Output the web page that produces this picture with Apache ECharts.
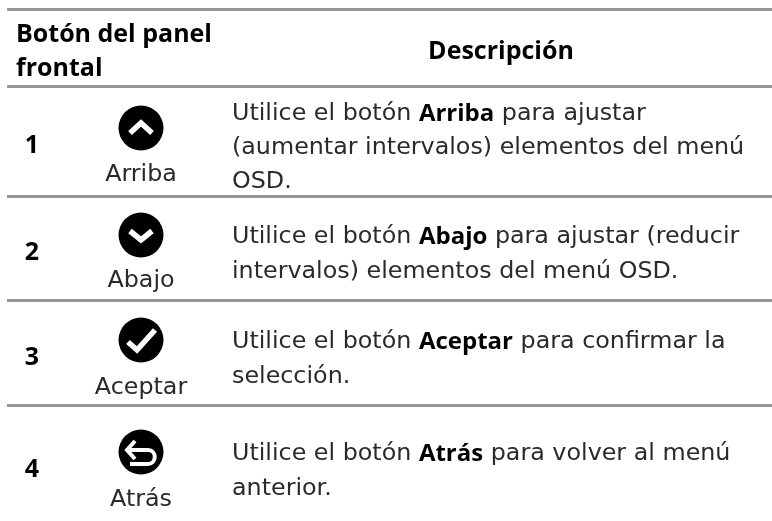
<!DOCTYPE html>
<html><head><meta charset="utf-8">
<style>html,body{margin:0;padding:0;background:#fff}#c{width:772px;height:521px}</style>
<script src="https://cdn.jsdelivr.net/npm/echarts@6/dist/echarts.min.js"></script>
</head><body><div id="c"></div>
<script>
var headerLeft = ['Botón del panel', 'frontal'];
var headerRight = 'Descripción';
var rowNumbers = ['1', '2', '3', '4'];
var buttonNames = ['Arriba', 'Abajo', 'Aceptar', 'Atrás'];
var descriptions = [
  ['Utilice el botón **Arriba** para ajustar', '(aumentar intervalos) elementos del menú', 'OSD.'],
  ['Utilice el botón **Abajo** para ajustar (reducir', 'intervalos) elementos del menú OSD.'],
  ['Utilice el botón **Aceptar** para confirmar la', 'selección.'],
  ['Utilice el botón **Atrás** para volver al menú', 'anterior.']
];
var ruleYs = [9.5, 86.5, 196.5, 300.5, 405.5];
var numberYs = [146, 253, 358, 470];
var iconYs = [128, 235, 340, 452];
var nameYs = [174.5, 281, 388, 500];
var descYs = [[114, 148, 182], [237, 272], [342, 377], [454, 489]];

var FONT = '"DejaVu Sans", sans-serif', BOLD = '"Open Sans", sans-serif';
var SIZE = 23.8, BSIZE = 24, INK = '#2a2a2a';
function richText(line){
  var parts = line.split('**'), out = '';
  parts.forEach(function(p,i){ if(p) out += '{' + (i%2?'b':'n') + '|' + p + '}'; });
  return out;
}
var els = [];
function txt(x,y,t,opt){
  els.push({type:'text',x:x,y:y,silent:true,style:Object.assign({text:t,fontFamily:FONT,fontSize:SIZE,fill:INK,verticalAlign:'middle',align:'left'},opt||{})});
}
ruleYs.forEach(function(y){
  els.push({type:'line',silent:true,shape:{x1:7,y1:y,x2:772,y2:y},style:{stroke:'#969696',lineWidth:3}});
});
var B = {fontFamily:BOLD,fontSize:25,fontWeight:'bold',fill:'#000'};
txt(16,35,headerLeft[0],B);
txt(16,69,headerLeft[1],B);
txt(501,51.5,headerRight,Object.assign({align:'center'},B));
rowNumbers.forEach(function(n,i){
  txt(32,numberYs[i],n,Object.assign({align:'center'},B));
  txt(141,nameYs[i],buttonNames[i],{align:'center'});
  var cy=iconYs[i];
  els.push({type:'circle',silent:true,shape:{cx:141,cy:cy,r:22.5},style:{fill:'#000'}});
  var glyph = i===0 ? [[-11,5],[0,-5],[11,5]] : i===1 ? [[-11,-4],[0,5],[11,-4]] : i===2 ? [[-13,2],[-4,10],[14,-10]] : null;
  var S = {stroke:'#fff',fill:null};
  if(glyph){
    els.push({type:'polyline',silent:true,shape:{points:glyph.map(function(p){return [141+p[0],cy+p[1]];})},style:Object.assign({lineWidth:5.5},S)});
  } else {
    els.push({type:'polyline',silent:true,shape:{points:[[135,cy-11],[127,cy-2],[135,cy+7]]},style:Object.assign({lineWidth:4},S)});
    els.push({type:'polyline',silent:true,shape:{points:[[127,cy-2],[148,cy-2]]},style:Object.assign({lineWidth:4},S)});
    els.push({type:'bezierCurve',silent:true,shape:{x1:148,y1:cy-2,cpx1:157,cpy1:cy-2,cpx2:157,cpy2:cy+12,x2:148,y2:cy+12},style:Object.assign({lineWidth:4},S)});
    els.push({type:'polyline',silent:true,shape:{points:[[148,cy+12],[130,cy+12]]},style:Object.assign({lineWidth:4},S)});
  }
  descriptions[i].forEach(function(line,j){
    els.push({type:'text',x:232,y:descYs[i][j],silent:true,style:{text:richText(line),fontFamily:FONT,fontSize:SIZE,fill:INK,verticalAlign:'middle',rich:{n:{fontFamily:FONT,fontSize:SIZE,fill:INK},b:{fontFamily:BOLD,fontSize:BSIZE,fontWeight:'bold',fill:'#000'}}}});
  });
});
var chart = echarts.init(document.getElementById('c'),null,{renderer:'canvas'});
chart.setOption({animation:false,backgroundColor:'#fff',graphic:{elements:els}});
</script></body></html>
